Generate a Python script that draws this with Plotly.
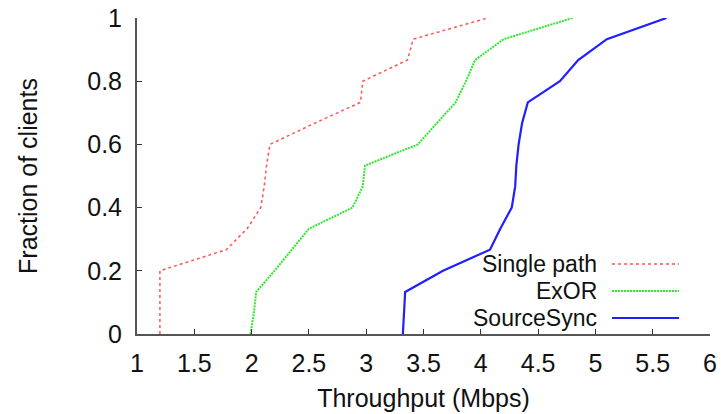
import plotly.graph_objects as go

# ---- data ----
single_x = [1.2, 1.2, 1.78, 1.96, 2.08, 2.11, 2.13, 2.16, 2.55, 2.95, 2.97, 3.36, 3.41, 4.06]
single_y = [0.0, 0.2, 0.267, 0.333, 0.4, 0.467, 0.533, 0.6, 0.667, 0.733, 0.8, 0.867, 0.933, 1.0]

exor_x = [1.99, 2.02, 2.04, 2.2, 2.5, 2.88, 2.97, 2.99, 3.45, 3.62, 3.78, 3.87, 3.95, 4.2, 4.8]
exor_y = [0.0, 0.067, 0.133, 0.2, 0.333, 0.4, 0.467, 0.533, 0.6, 0.667, 0.733, 0.8, 0.867, 0.933, 1.0]

ss_x = [3.32, 3.34, 3.67, 4.08, 4.17, 4.27, 4.3, 4.31, 4.33, 4.36, 4.41, 4.69, 4.85, 5.1, 5.62]
ss_y = [0.0, 0.133, 0.2, 0.267, 0.333, 0.4, 0.467, 0.533, 0.6, 0.667, 0.733, 0.8, 0.867, 0.933, 1.0]

series_names = ["Single path", "ExOR", "SourceSync"]
x_ticks = [1, 1.5, 2, 2.5, 3, 3.5, 4, 4.5, 5, 5.5, 6]
x_tick_text = ["1", "1.5", "2", "2.5", "3", "3.5", "4", "4.5", "5", "5.5", "6"]
y_ticks = [0, 0.2, 0.4, 0.6, 0.8, 1]
y_tick_text = ["0", "0.2", "0.4", "0.6", "0.8", "1"]

colors = ["#ff5555", "#2ee82e", "#1f1fff"]
dashes = ["3px,3px", "2px,1px", "solid"]
widths = [1.5, 2, 2.2]

FONT = "Liberation Sans, Arial, sans-serif"
FS = 25
LEG_FS = 23

fig = go.Figure()
for xs, ys, name, c, d, w in zip([single_x, exor_x, ss_x], [single_y, exor_y, ss_y],
                                 series_names, colors, dashes, widths):
    fig.add_trace(go.Scatter(x=xs, y=ys, mode="lines", name=name,
                             line=dict(color=c, dash=d, width=w), showlegend=False))

# custom legend (text right-aligned, sample line to the right)
leg_y = [0.2215, 0.136, 0.0506]
for name, c, d, w, yy in zip(series_names, colors, dashes, widths, leg_y):
    fig.add_annotation(xref="paper", yref="paper", x=0.806, y=yy, text=name,
                       showarrow=False, xanchor="right", yanchor="middle",
                       font=dict(family=FONT, size=LEG_FS, color="#111"))
    fig.add_shape(type="line", xref="paper", yref="paper", x0=0.829, x1=0.946,
                  y0=yy, y1=yy, line=dict(color=c, dash=d, width=w))

fig.update_layout(
    width=726, height=414,
    margin=dict(l=137, r=16, t=18, b=80),
    paper_bgcolor="white", plot_bgcolor="white",
    font=dict(family=FONT, size=FS, color="#111"),
)
fig.update_xaxes(range=[1, 6], tickvals=x_ticks, ticktext=x_tick_text,
                 showgrid=False, zeroline=False, showline=True, automargin=False,
                 linecolor="#555", linewidth=2, ticks="inside", ticklen=5,
                 tickcolor="#333", ticklabelstandoff=6,
                 tickfont=dict(family=FONT, size=FS, color="#111"),
                 title=dict(text="Throughput (Mbps)", standoff=13,
                            font=dict(family=FONT, size=FS, color="#111")))
fig.update_yaxes(range=[0, 1], tickvals=y_ticks, ticktext=y_tick_text,
                 showgrid=False, zeroline=False, showline=True, automargin=False,
                 linecolor="#555", linewidth=2, ticks="inside", ticklen=5,
                 tickcolor="#333", ticklabelstandoff=8,
                 tickfont=dict(family=FONT, size=FS, color="#111"),
                 title=dict(text="Fraction of clients", standoff=42,
                            font=dict(family=FONT, size=FS, color="#111")))

fig.write_html("out.html")
